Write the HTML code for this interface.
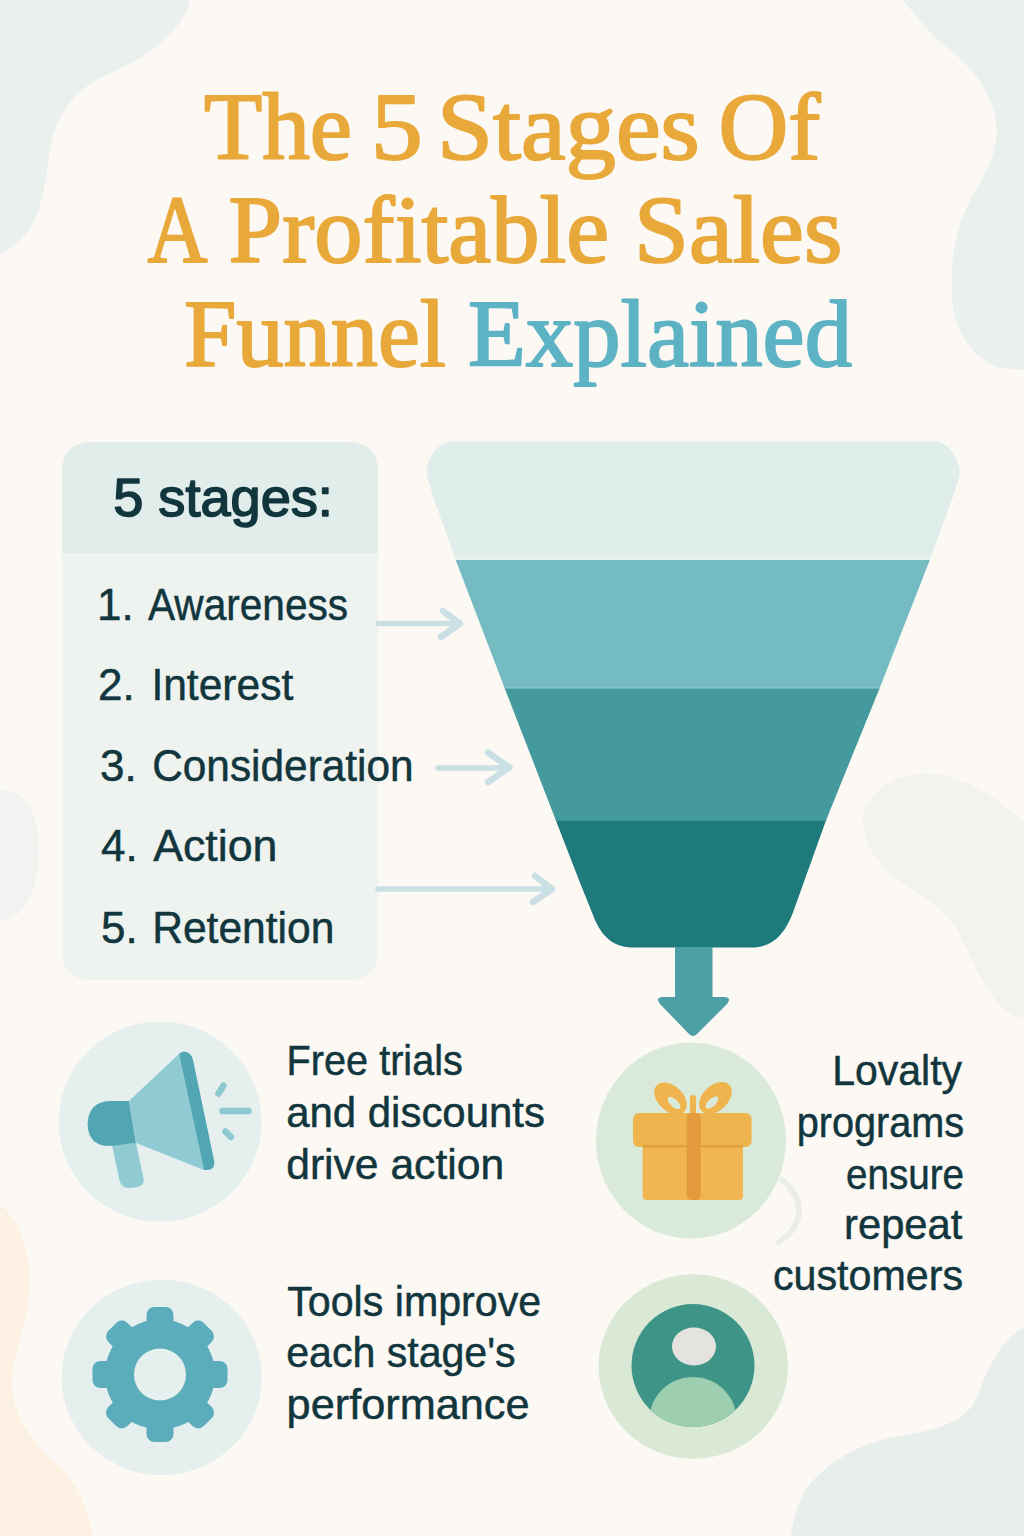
<!DOCTYPE html>
<html>
<head>
<meta charset="utf-8">
<style>
html,body{margin:0;padding:0;width:1024px;height:1536px;overflow:hidden;background:#fcf9f4;}
svg{display:block;}
.ser{font-family:"Liberation Serif",serif;font-weight:normal;stroke-linejoin:round;}
.san{font-family:"Liberation Sans",sans-serif;}
</style>
</head>
<body>
<svg width="1024" height="1536" viewBox="0 0 1024 1536">
  <rect x="0" y="0" width="1024" height="1536" fill="#fcf9f4"/>
  <!-- background blobs -->
  <path id="blobTL" d="M0,0 L190,0 C188,12 178,30 152,50 C130,66 105,74 90,84 C68,100 55,120 50,150 C45,180 44,205 30,228 C22,240 10,250 0,255 Z" fill="#e9f0ed"/>
  <path id="blobTR" d="M903,0 C912,10 925,30 950,50 C985,78 1000,110 996,140 C993,165 980,180 968,205 C955,230 950,260 952,300 C955,335 975,360 1000,368 L1024,370 L1024,0 Z" fill="#e9f0ed"/>
  <path id="blobLM" d="M0,789 C25,789 39,815 39,850 C39,890 25,920 0,920 Z" fill="#f1f3f0"/>
  <path id="blobRM" d="M928,773 C900,773 865,790 863,818 C862,845 880,868 905,885 C930,900 948,912 960,935 C972,960 985,990 1000,1005 C1010,1014 1018,1018 1024,1018 L1024,822 C1000,800 965,775 928,773 Z" fill="#f2f3ef"/>
  <path id="blobBL" d="M0,1205 C15,1215 28,1240 30,1275 C32,1310 15,1345 12,1380 C10,1410 30,1440 55,1462 C75,1480 88,1505 93,1536 L0,1536 Z" fill="#fcf1e3"/>
  <path id="blobBR" d="M1024,1327 C1005,1338 990,1360 980,1390 C970,1418 950,1428 900,1436 C850,1445 815,1470 800,1500 C795,1515 792,1525 791,1536 L1024,1536 Z" fill="#e8eeec"/>

  <text class="ser" x="204.00" y="158.5" font-size="95" fill="#e9a93a" stroke="#e9a93a" stroke-width="2" textLength="148.09" lengthAdjust="spacingAndGlyphs">The</text>
  <text class="ser" x="371.00" y="158.5" font-size="95" fill="#e9a93a" stroke="#e9a93a" stroke-width="2" textLength="51.74" lengthAdjust="spacingAndGlyphs">5</text>
  <text class="ser" x="437.00" y="158.5" font-size="95" fill="#e9a93a" stroke="#e9a93a" stroke-width="2" textLength="262.78" lengthAdjust="spacingAndGlyphs">Stages</text>
  <text class="ser" x="718.50" y="158.5" font-size="95" fill="#e9a93a" stroke="#e9a93a" stroke-width="2" textLength="102.04" lengthAdjust="spacingAndGlyphs">Of</text>
  <text class="ser" x="147.50" y="262" font-size="95" fill="#e9a93a" stroke="#e9a93a" stroke-width="2" textLength="60.01" lengthAdjust="spacingAndGlyphs">A</text>
  <text class="ser" x="228.50" y="262" font-size="95" fill="#e9a93a" stroke="#e9a93a" stroke-width="2" textLength="380.52" lengthAdjust="spacingAndGlyphs">Profitable</text>
  <text class="ser" x="634.00" y="262" font-size="95" fill="#e9a93a" stroke="#e9a93a" stroke-width="2" textLength="208.34" lengthAdjust="spacingAndGlyphs">Sales</text>
  <text class="ser" x="184.00" y="365.7" font-size="95" fill="#e9a93a" stroke="#e9a93a" stroke-width="2" textLength="262.03" lengthAdjust="spacingAndGlyphs">Funnel</text>
  <text class="ser" x="468.00" y="365.7" font-size="95" fill="#5db3c4" stroke="#5db3c4" stroke-width="2" textLength="384.01" lengthAdjust="spacingAndGlyphs">Explained</text>
  <!-- stages box -->
  <path d="M62,472 Q62,442 92,442 L348,442 Q378,442 378,472 L378,553 L62,553 Z" fill="#e1edeb"/>
  <path d="M62,553 L378,553 L378,950 Q378,980 348,980 L92,980 Q62,980 62,950 Z" fill="#eef3f0"/>
  <text class="san" x="113.20" y="516" font-size="53" fill="#12363d" stroke="#12363d" stroke-width="1.6" stroke-linejoin="round" textLength="219.72" lengthAdjust="spacingAndGlyphs">5 stages:</text>
  <text class="san" x="97.00" y="620.3" font-size="44" fill="#12363d" stroke="#12363d" stroke-width="0.5" stroke-linejoin="round">1.</text>
  <text class="san" x="148.00" y="620.3" font-size="44" fill="#12363d" stroke="#12363d" stroke-width="0.5" stroke-linejoin="round" textLength="200.09" lengthAdjust="spacingAndGlyphs">Awareness</text>
  <text class="san" x="98.10" y="699.8" font-size="44" fill="#12363d" stroke="#12363d" stroke-width="0.5" stroke-linejoin="round">2.</text>
  <text class="san" x="151.40" y="699.8" font-size="44" fill="#12363d" stroke="#12363d" stroke-width="0.5" stroke-linejoin="round" textLength="141.83" lengthAdjust="spacingAndGlyphs">Interest</text>
  <text class="san" x="100.10" y="781" font-size="44" fill="#12363d" stroke="#12363d" stroke-width="0.5" stroke-linejoin="round">3.</text>
  <text class="san" x="152.20" y="781" font-size="44" fill="#12363d" stroke="#12363d" stroke-width="0.5" stroke-linejoin="round" textLength="261.48" lengthAdjust="spacingAndGlyphs">Consideration</text>
  <text class="san" x="101.10" y="860.8" font-size="44" fill="#12363d" stroke="#12363d" stroke-width="0.5" stroke-linejoin="round">4.</text>
  <text class="san" x="153.20" y="860.8" font-size="44" fill="#12363d" stroke="#12363d" stroke-width="0.5" stroke-linejoin="round" textLength="124.27" lengthAdjust="spacingAndGlyphs">Action</text>
  <text class="san" x="101.10" y="942.8" font-size="44" fill="#12363d" stroke="#12363d" stroke-width="0.5" stroke-linejoin="round">5.</text>
  <text class="san" x="152.20" y="942.8" font-size="44" fill="#12363d" stroke="#12363d" stroke-width="0.5" stroke-linejoin="round" textLength="182.25" lengthAdjust="spacingAndGlyphs">Retention</text>

  <!-- side arrows -->
  <g stroke="#cbe0e4" fill="none" stroke-linecap="round" stroke-linejoin="round">
    <path stroke-width="5.5" d="M378,623.6 L458,623.6"/>
    <path stroke-width="6.5" d="M443,611 L460,623.6 L441,637"/>
    <path stroke-width="5.5" d="M438,768 L507,768"/>
    <path stroke-width="6.5" d="M488,752.5 L509.5,767.5 L488,782"/>
    <path stroke-width="5.5" d="M378,889 L550,889"/>
    <path stroke-width="6.5" d="M535,876 L552,889 L533,902"/>
  </g>

  <!-- funnel -->
  <defs>
    <clipPath id="fclip">
      <path d="M452,441.4 L935.8,441.4 C950,441.4 963.4,466 959,478 L952.7,497.7 L929.7,560.3 L880,687.2 L825.8,820.9 L793.7,910.5 C785,935 772,947.5 752,947.5 L632,947.5 C612,947.5 600,935 592,912.6 L580.5,884 L556.1,820.9 L504.5,687.7 L455.8,560.2 L434.3,500 L427.5,478 C423.2,466 435,441.4 452,441.4 Z"/>
    </clipPath>
  </defs>
  <g clip-path="url(#fclip)">
    <rect x="380" y="430" width="620" height="130" fill="#dfedeb"/>
    <rect x="380" y="557.5" width="620" height="2" fill="#e9f3f1"/>
    <rect x="380" y="560" width="620" height="128" fill="#74bbc2"/>
    <rect x="380" y="688" width="620" height="132" fill="#449a9c"/>
    <rect x="380" y="687" width="620" height="1.6" fill="#86c3c8"/>
    <rect x="380" y="820" width="620" height="140" fill="#1f7a7b"/>
    <rect x="380" y="819.5" width="620" height="1.2" fill="#4d9c9e"/>
  </g>
  <!-- down arrow -->
  <path d="M675,947 L712.5,947 L712.5,997 L725,997 Q732,998 727,1004 L697,1034 Q693,1038 689,1034 L660,1004 Q655,998 662,997 L675,997 Z" fill="#4d9fa6"/>

  <!-- megaphone circle -->
  <ellipse cx="160.1" cy="1121.7" rx="101.5" ry="100" fill="#e4efee"/>
  <g>
    <path d="M112,1145 L136,1143 L143.5,1178 Q145,1186 137,1187 L129,1188 Q121,1188 119.5,1180 Z" fill="#90cbd3"/>
    <path d="M129,1101 L136,1143 L110,1146 Q88,1146 87.6,1124 Q88,1102 110,1101 Z" fill="#52a6b4"/>
    <path d="M129,1101 L179,1054 L204,1170 L136,1143 Z" fill="#90cbd3"/>
    <path d="M179,1054 Q184,1049 190,1054 Q192,1056 193,1060 L214,1160 Q216,1170 206,1170 L204,1170 Z" fill="#52a6b4"/>
    <g stroke="#8ec8d0" stroke-width="6.5" stroke-linecap="round">
      <path d="M218.5,1093.5 L223.5,1085.5"/>
      <path d="M222.5,1111 L248.5,1111"/>
      <path d="M225.5,1131.5 L231,1137"/>
    </g>
  </g>
  <!-- gear circle -->
  <ellipse cx="161.7" cy="1377.3" rx="100" ry="97.8" fill="#e4efee"/>
  <g transform="translate(160,1374.5)" fill="#5badbb">
    <circle r="55"/>
    <g id="tooth"><rect x="-13.5" y="-67.5" width="27" height="22" rx="8"/></g>
    <use href="#tooth" transform="rotate(45)"/>
    <use href="#tooth" transform="rotate(90)"/>
    <use href="#tooth" transform="rotate(135)"/>
    <use href="#tooth" transform="rotate(180)"/>
    <use href="#tooth" transform="rotate(225)"/>
    <use href="#tooth" transform="rotate(270)"/>
    <use href="#tooth" transform="rotate(315)"/>
    <circle r="26" fill="#e4efee"/>
  </g>

  <!-- gift circle -->
  <ellipse cx="691" cy="1140.6" rx="95" ry="98" fill="#d9eada"/>
  <g>
    <ellipse cx="0" cy="0" rx="19" ry="12.5" fill="#f0b44e" transform="translate(670.5,1098.5) rotate(43)"/>
    <ellipse cx="0" cy="0" rx="19" ry="12.5" fill="#f0b44e" transform="translate(715.5,1098) rotate(-43)"/>
    <ellipse cx="0" cy="0" rx="8" ry="3.8" fill="#d9eada" transform="translate(674,1103) rotate(43)"/>
    <ellipse cx="0" cy="0" rx="8" ry="3.8" fill="#d9eada" transform="translate(712,1102.5) rotate(-43)"/>
    <rect x="690" y="1095" width="6" height="20" rx="3" fill="#f0b44e"/>
    <rect x="642.6" y="1145" width="100.4" height="55" rx="4" fill="#f1b552"/>
    <rect x="633" y="1113" width="118.6" height="34" rx="6" fill="#f0b44e"/>
    <rect x="642.6" y="1145" width="100.4" height="2.5" fill="#e29f3f"/>
    <rect x="686.7" y="1113" width="14" height="87" rx="5" fill="#e29a3c"/>
  </g>
  <path d="M782,1180 Q800,1195 799,1212 Q797,1230 779,1242" stroke="#eaede8" stroke-width="6" fill="none" stroke-linecap="round"/>

  <!-- person circle -->
  <ellipse cx="693.3" cy="1366.5" rx="94.7" ry="92.3" fill="#d9e9d5"/>
  <defs><clipPath id="pclip"><circle cx="693" cy="1365.5" r="61.5"/></clipPath></defs>
  <circle cx="693" cy="1365.5" r="61.5" fill="#3e9587"/>
  <g clip-path="url(#pclip)">
    <circle cx="693" cy="1421" r="44" fill="#9ecfb0"/>
  </g>
  <ellipse cx="694" cy="1346.5" rx="22" ry="19" fill="#e4e3df"/>

  <text class="san" x="286.60" y="1074.6" font-size="43" fill="#12363d" stroke="#12363d" stroke-width="0.5" stroke-linejoin="round" textLength="176.25" lengthAdjust="spacingAndGlyphs">Free trials</text>
  <text class="san" x="286.20" y="1127.4" font-size="43" fill="#12363d" stroke="#12363d" stroke-width="0.5" stroke-linejoin="round" textLength="258.72" lengthAdjust="spacingAndGlyphs">and discounts</text>
  <text class="san" x="286.20" y="1178.6" font-size="43" fill="#12363d" stroke="#12363d" stroke-width="0.5" stroke-linejoin="round" textLength="217.90" lengthAdjust="spacingAndGlyphs">drive action</text>
  <text class="san" x="287.20" y="1315.5" font-size="43" fill="#12363d" stroke="#12363d" stroke-width="0.5" stroke-linejoin="round" textLength="254.01" lengthAdjust="spacingAndGlyphs">Tools improve</text>
  <text class="san" x="286.20" y="1367.4" font-size="43" fill="#12363d" stroke="#12363d" stroke-width="0.5" stroke-linejoin="round" textLength="229.43" lengthAdjust="spacingAndGlyphs">each stage&#39;s</text>
  <text class="san" x="286.60" y="1418.6" font-size="43" fill="#12363d" stroke="#12363d" stroke-width="0.5" stroke-linejoin="round" textLength="242.97" lengthAdjust="spacingAndGlyphs">performance</text>
  <text class="san" x="832.20" y="1085.4" font-size="43" fill="#12363d" stroke="#12363d" stroke-width="0.5" stroke-linejoin="round" textLength="129.81" lengthAdjust="spacingAndGlyphs">Lovalty</text>
  <text class="san" x="796.70" y="1137.4" font-size="43" fill="#12363d" stroke="#12363d" stroke-width="0.5" stroke-linejoin="round" textLength="167.40" lengthAdjust="spacingAndGlyphs">programs</text>
  <text class="san" x="846.00" y="1188.5" font-size="43" fill="#12363d" stroke="#12363d" stroke-width="0.5" stroke-linejoin="round" textLength="118.07" lengthAdjust="spacingAndGlyphs">ensure</text>
  <text class="san" x="844.00" y="1239.4" font-size="43" fill="#12363d" stroke="#12363d" stroke-width="0.5" stroke-linejoin="round" textLength="118.42" lengthAdjust="spacingAndGlyphs">repeat</text>
  <text class="san" x="773.00" y="1290" font-size="43" fill="#12363d" stroke="#12363d" stroke-width="0.5" stroke-linejoin="round" textLength="190.01" lengthAdjust="spacingAndGlyphs">customers</text>
</svg>
</body>
</html>
